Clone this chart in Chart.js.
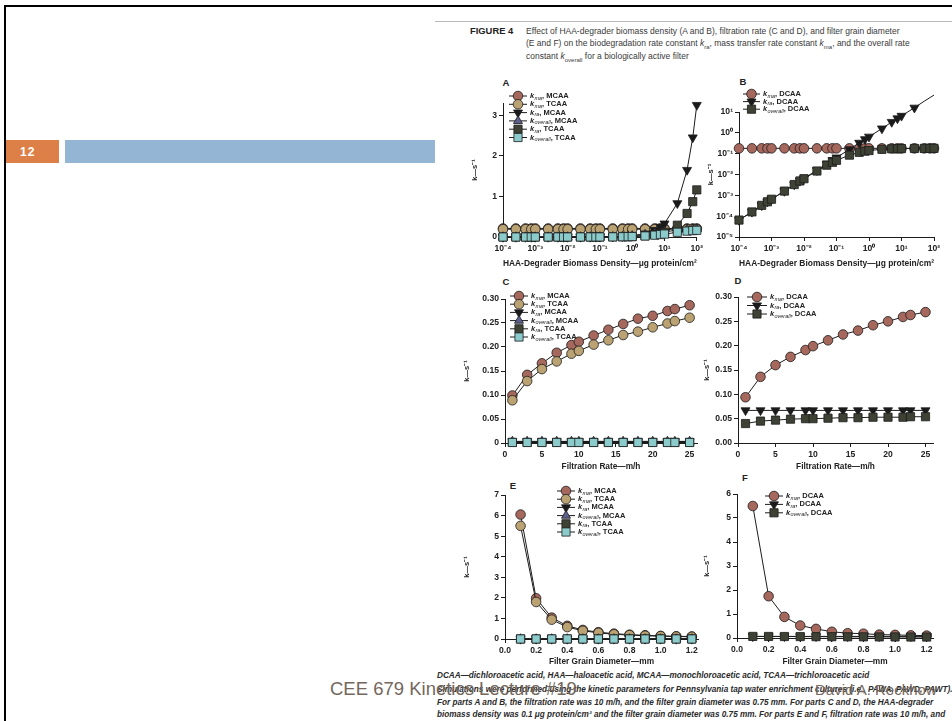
<!DOCTYPE html>
<html>
<head>
<meta charset="utf-8">
<script src="https://cdn.jsdelivr.net/npm/chart.js@4.4.0/dist/chart.umd.min.js"></script>
<style>
  body { margin: 0; width: 952px; height: 721px; overflow: hidden; background: #fff; position: relative;
         font-family: "Liberation Sans", Arial, sans-serif; }
  .abs { position: absolute; white-space: nowrap; line-height: 1; }
  canvas { position: absolute; }
  .cap { font-size: 8.5px; color: #3a3a3a; }
  .note { font-size: 8.2px; color: #2a2a2a; font-style: italic; font-weight: bold; }
  .letter { font-size: 9.5px; font-weight: bold; color: #222; transform: translate(-50%, -50%); }
  .foot { color: #74675c; }
</style>
</head>
<body>
<!-- slide frame -->
<div class="abs" style="left:4px;top:5px;width:948px;height:2px;background:#000"></div>
<div class="abs" style="left:4px;top:5px;width:2px;height:716px;background:#000"></div>
<div class="abs" style="left:435px;top:21px;width:517px;height:1px;background:#bbb"></div>
<div class="abs" style="left:6px;top:140px;width:53px;height:23px;background:#dd8047"></div>
<div class="abs" style="left:20px;top:146px;font-size:12px;font-weight:bold;color:#fff;letter-spacing:1px">12</div>
<div class="abs" style="left:65px;top:140px;width:370px;height:23px;background:#94b5d3"></div>

<!-- figure caption -->
<div class="abs cap" style="left:470px;top:26px;font-weight:bold;color:#222;font-size:9.4px">FIGURE 4</div>
<div class="abs cap" style="left:526px;top:27px">Effect of HAA-degrader biomass density (A and B), filtration rate (C and D), and filter grain diameter</div>
<div class="abs cap" style="left:526px;top:39px">(E and F) on the biodegradation rate constant <i>k</i><sub style="font-size:6px">ra</sub>, mass transfer rate constant <i>k</i><sub style="font-size:6px">ma</sub>, and the overall rate</div>
<div class="abs cap" style="left:526px;top:52px">constant <i>k</i><sub style="font-size:6px">overall</sub> for a biologically active filter</div>

<div class="abs letter" style="left:506px;top:83px">A</div>
<div class="abs letter" style="left:743px;top:82px">B</div>
<div class="abs letter" style="left:506px;top:282px">C</div>
<div class="abs letter" style="left:738px;top:281px">D</div>
<div class="abs letter" style="left:513px;top:486px">E</div>
<div class="abs letter" style="left:745px;top:478px">F</div>

<!-- footnotes -->
<div class="abs note" style="left:437px;top:672px">DCAA—dichloroacetic acid, HAA—haloacetic acid, MCAA—monochloroacetic acid, TCAA—trichloroacetic acid</div>
<div class="abs note" style="left:437px;top:686px">Simulations were performed using the kinetic parameters for Pennsylvania tap water enrichment cultures (i.e., PAWA, PAWD, PAWT).</div>
<div class="abs note" style="left:437px;top:699px">For parts A and B, the filtration rate was 10 m/h, and the filter grain diameter was 0.75 mm. For parts C and D, the HAA-degrader</div>
<div class="abs note" style="left:437px;top:711px">biomass density was 0.1 μg protein/cm² and the filter grain diameter was 0.75 mm. For parts E and F, filtration rate was 10 m/h, and</div>
<div class="abs note" style="left:437px;top:723px">the HAA-degrader biomass density was 0.1 μg protein/cm². For all simulations, the bed porosity was 40%.</div>

<div class="abs foot" style="left:330px;top:680px;font-size:18.5px">CEE 679 Kinetics Lecture #19</div>
<div class="abs foot" style="left:815px;top:682px;font-size:15px">David A. Reckhow</div>

<script>
// x values
const biomass = [1e-4, 2.5e-4, 5e-4, 7.5e-4, 1e-3, 2.5e-3, 5e-3, 7.5e-3, 1e-2, 2.5e-2, 5e-2, 7.5e-2,
                 0.1, 0.25, 0.5, 0.75, 1, 2.5, 5, 7.5, 10, 25, 50, 75, 100];
const rate = [1, 3, 5, 7, 9, 10, 12, 14, 16, 18, 20, 22, 23, 25];
const diameter = [0.1, 0.2, 0.3, 0.4, 0.5, 0.6, 0.7, 0.8, 0.9, 1.0, 1.1, 1.2];

// Panel A - biomass density, MCAA / TCAA
const kmaMcaaA = [0.211, 0.211, 0.211, 0.211, 0.211, 0.211, 0.211, 0.211, 0.211, 0.211, 0.211, 0.211, 0.211,
                  0.211, 0.211, 0.211, 0.211, 0.211, 0.211, 0.211, 0.211, 0.211, 0.211, 0.211, 0.211];
const kmaTcaaA = [0.192, 0.192, 0.192, 0.192, 0.192, 0.192, 0.192, 0.192, 0.192, 0.192, 0.192, 0.192, 0.192,
                  0.192, 0.192, 0.192, 0.192, 0.192, 0.192, 0.192, 0.192, 0.192, 0.192, 0.192, 0.192];
const kraMcaaA = [0.0000033, 0.0000083, 0.000017, 0.000025, 0.000033, 0.000083, 0.00017, 0.00025, 0.00033, 0.00083,
                  0.0017, 0.0025, 0.0033, 0.0083, 0.017, 0.025, 0.033, 0.083, 0.17, 0.25, 0.33, 0.83, 1.65, 2.45, 3.25];
const kovMcaaA = [0.0000033, 0.0000083, 0.000017, 0.000025, 0.000033, 0.000083, 0.00017, 0.00025, 0.00033, 0.00083,
                  0.0017, 0.0025, 0.0033, 0.0079, 0.015, 0.022, 0.029, 0.060, 0.094, 0.114, 0.128, 0.168, 0.186, 0.193, 0.197];
const kraTcaaA = [0.0000012, 0.0000029, 0.0000058, 0.0000087, 0.0000116, 0.000029, 0.000058, 0.000087, 0.000116, 0.00029,
                  0.00058, 0.00087, 0.00116, 0.0029, 0.0058, 0.0087, 0.0116, 0.029, 0.058, 0.087, 0.116, 0.29, 0.58, 0.87, 1.16];
const kovTcaaA = [0.0000012, 0.0000029, 0.0000058, 0.0000087, 0.0000116, 0.000029, 0.000058, 0.000087, 0.000116, 0.00029,
                  0.00058, 0.00087, 0.00115, 0.0029, 0.0056, 0.0083, 0.0109, 0.025, 0.045, 0.060, 0.072, 0.116, 0.144, 0.157, 0.165];

// Panel B - biomass density, DCAA
const kmaDcaaB = [0.18, 0.18, 0.18, 0.18, 0.18, 0.18, 0.18, 0.18, 0.18, 0.18, 0.18, 0.18, 0.18,
                  0.18, 0.18, 0.18, 0.18, 0.18, 0.18, 0.18, 0.18, 0.18, 0.18, 0.18, 0.18];
const kraDcaaB = [0.000065, 0.00016, 0.00033, 0.00049, 0.00065, 0.0016, 0.0033, 0.0049, 0.0065, 0.016, 0.033, 0.049,
                  0.065, 0.16, 0.33, 0.49, 0.65, 1.6, 3.3, 4.9, 6.5, 16, 33, 49, 65];
const kovDcaaB = [0.000065, 0.00016, 0.00033, 0.00049, 0.00065, 0.0016, 0.0033, 0.0049, 0.0063, 0.0147, 0.028, 0.0385,
                  0.048, 0.085, 0.116, 0.132, 0.141, 0.162, 0.171, 0.174, 0.175, 0.178, 0.179, 0.179, 0.18];

// Panel C - filtration rate, MCAA / TCAA
const kmaMcaaC = [0.099, 0.142, 0.166, 0.188, 0.204, 0.211, 0.224, 0.236, 0.248, 0.259, 0.265, 0.275, 0.279, 0.287];
const kmaTcaaC = [0.089, 0.129, 0.154, 0.170, 0.186, 0.192, 0.205, 0.214, 0.225, 0.232, 0.241, 0.249, 0.254, 0.261];
const kraMcaaC = [0.0033, 0.0033, 0.0033, 0.0033, 0.0033, 0.0033, 0.0033, 0.0033, 0.0033, 0.0033, 0.0033, 0.0033, 0.0033, 0.0033];
const kovMcaaC = [0.0032, 0.0032, 0.0032, 0.0032, 0.0032, 0.0032, 0.0032, 0.0032, 0.0032, 0.0032, 0.0032, 0.0032, 0.0032, 0.0032];
const kraTcaaC = [0.0012, 0.0012, 0.0012, 0.0012, 0.0012, 0.0012, 0.0012, 0.0012, 0.0012, 0.0012, 0.0012, 0.0012, 0.0012, 0.0012];
const kovTcaaC = [0.0011, 0.0011, 0.0011, 0.0011, 0.0011, 0.0011, 0.0011, 0.0011, 0.0011, 0.0011, 0.0011, 0.0011, 0.0011, 0.0011];

// Panel D - filtration rate, DCAA
const kmaDcaaD = [0.094, 0.136, 0.160, 0.177, 0.191, 0.199, 0.211, 0.223, 0.231, 0.242, 0.250, 0.259, 0.263, 0.269];
const kraDcaaD = [0.067, 0.067, 0.067, 0.067, 0.067, 0.067, 0.067, 0.067, 0.067, 0.067, 0.067, 0.067, 0.067, 0.067];
const kovDcaaD = [0.040, 0.045, 0.047, 0.049, 0.050, 0.050, 0.051, 0.052, 0.052, 0.053, 0.053, 0.053, 0.054, 0.054];

// Panel E - grain diameter, MCAA / TCAA
const kmaMcaaE = [6.05, 1.98, 1.04, 0.64, 0.44, 0.33, 0.26, 0.21, 0.18, 0.15, 0.13, 0.12];
const kmaTcaaE = [5.50, 1.80, 0.94, 0.58, 0.40, 0.30, 0.23, 0.19, 0.16, 0.14, 0.12, 0.11];
const kraMcaaE = [0.0033, 0.0033, 0.0033, 0.0033, 0.0033, 0.0033, 0.0033, 0.0033, 0.0033, 0.0033, 0.0033, 0.0033];
const kovMcaaE = [0.0033, 0.0033, 0.0033, 0.0033, 0.0033, 0.0033, 0.0032, 0.0032, 0.0032, 0.0032, 0.0032, 0.0032];
const kraTcaaE = [0.0012, 0.0012, 0.0012, 0.0012, 0.0012, 0.0012, 0.0012, 0.0012, 0.0012, 0.0012, 0.0012, 0.0012];
const kovTcaaE = [0.0012, 0.0012, 0.0012, 0.0012, 0.0012, 0.0011, 0.0011, 0.0011, 0.0011, 0.0011, 0.0011, 0.0011];

// Panel F - grain diameter, DCAA
const kmaDcaaF = [5.50, 1.74, 0.88, 0.52, 0.38, 0.26, 0.20, 0.18, 0.14, 0.13, 0.11, 0.10];
const kraDcaaF = [0.067, 0.067, 0.067, 0.067, 0.067, 0.067, 0.067, 0.067, 0.067, 0.067, 0.067, 0.067];
const kovDcaaF = [0.066, 0.064, 0.062, 0.059, 0.056, 0.054, 0.050, 0.048, 0.045, 0.044, 0.041, 0.040];

// tick values and labels
const decadeTicksX = [1e-4, 1e-3, 1e-2, 1e-1, 1, 10, 100];
const decadeLabelsX = ['10⁻⁴', '10⁻³', '10⁻²', '10⁻¹', '10⁰', '10¹', '10²'];
const decadeTicksY = [1e-5, 1e-4, 1e-3, 1e-2, 1e-1, 1, 10];
const decadeLabelsY = ['10⁻⁵', '10⁻⁴', '10⁻³', '10⁻²', '10⁻¹', '10⁰', '10¹'];
const yTicksA = [0, 1, 2, 3];
const rateTicks = [0, 5, 10, 15, 20, 25];
const yTicksCD = [0, 0.05, 0.10, 0.15, 0.20, 0.25, 0.30];
const yLabelsC = ['0', '0.05', '0.10', '0.15', '0.20', '0.25', '0.30'];
const yLabelsD = ['0.00', '0.05', '0.10', '0.15', '0.20', '0.25', '0.30'];
const diamTicks = [0, 0.2, 0.4, 0.6, 0.8, 1.0, 1.2];
const diamLabels = ['0.0', '0.2', '0.4', '0.6', '0.8', '1.0', '1.2'];
const yTicksE = [0, 1, 2, 3, 4, 5, 6, 7];
const yTicksF = [0, 1, 2, 3, 4, 5, 6];

const FONT = '"Liberation Sans", Arial, sans-serif';
const INK = '#1c1c1c';

// marker looks per series type
const st = {
  maM: { fill: '#a6685d', shape: 'circle', rot: 0, r: 4.8 },
  maT: { fill: '#baa273', shape: 'circle', rot: 0, r: 4.8 },
  raM: { fill: '#1a1a1a', shape: 'triangle', rot: 180, r: 5.2 },
  ovM: { fill: '#5d608c', shape: 'triangle', rot: 0, r: 5.2 },
  raT: { fill: '#3d4234', shape: 'rect', rot: 0, r: 5.8 },
  ovT: { fill: '#8ccbcb', shape: 'rect', rot: 0, r: 5.8 },
  maD: { fill: '#a6685d', shape: 'circle', rot: 0, r: 4.8 },
  raD: { fill: '#1a1a1a', shape: 'triangle', rot: 180, r: 5.2 },
  ovD: { fill: '#3d4234', shape: 'rect', rot: 0, r: 5.8 }
};

const miniLegend = {
  id: 'miniLegend',
  afterDatasetsDraw(chart, args, opts) {
    const ctx = chart.ctx;
    ctx.save();
    opts.items.forEach((it, i) => {
      const ds = chart.data.datasets[i];
      const y = opts.y + i * opts.step;
      ctx.strokeStyle = INK;
      ctx.lineWidth = 1;
      ctx.beginPath();
      ctx.moveTo(opts.x, y);
      ctx.lineTo(opts.x + opts.len, y);
      ctx.stroke();
      ctx.fillStyle = ds.pointBackgroundColor;
      ctx.lineWidth = 0.8;
      Chart.helpers.drawPoint(ctx, { pointStyle: ds.pointStyle, rotation: ds.pointRotation,
        radius: ds.pointRadius, borderWidth: 0.8 }, opts.x + opts.len / 2, y);
      let tx = opts.x + opts.len + 3;
      ctx.fillStyle = '#222';
      ctx.textBaseline = 'middle';
      ctx.font = 'italic bold 7.5px ' + FONT;
      ctx.fillText('k', tx, y);
      tx += ctx.measureText('k').width + 0.3;
      ctx.font = 'italic 5.5px ' + FONT;
      ctx.fillText(it.sub, tx, y + 2);
      tx += ctx.measureText(it.sub).width;
      ctx.font = 'bold 7.5px ' + FONT;
      ctx.fillText(', ' + it.name, tx, y);
    });
    ctx.restore();
  }
};

function axis(o, pos, size, titlePad) {
  return {
    type: o.type, min: o.min, max: o.max, position: pos,
    afterBuildTicks: s => { s.ticks = o.ticks.map(v => ({ value: v })); },
    afterFit: s => { if (pos === 'bottom') s.height = size; else s.width = size; },
    ticks: { callback: (v, i) => o.labels[i], color: '#222', autoSkip: false, maxRotation: 0, padding: 2,
             font: { size: 8.6, weight: 'bold', family: FONT } },
    grid: { drawOnChartArea: false, drawTicks: true, tickLength: 4, color: INK, lineWidth: 1 },
    border: { color: INK, width: 1 },
    title: { display: true, text: o.title, color: '#222', padding: { top: titlePad, bottom: titlePad },
             font: { size: o.titleSize, weight: 'bold', family: FONT } }
  };
}

function panel(box, plot, xs, series, xAx, yAx, leg) {
  const cv = document.createElement('canvas');
  cv.width = box.w;
  cv.height = box.h;
  cv.style.left = box.x + 'px';
  cv.style.top = box.y + 'px';
  document.body.appendChild(cv);
  const n = series.length;
  new Chart(cv, {
    type: 'line',
    data: {
      datasets: series.map((s, i) => ({
        data: xs.map((x, j) => ({ x, y: s.data[j] })),
        borderColor: INK, borderWidth: 1, tension: 0,
        pointStyle: s.st.shape, pointRotation: s.st.rot, pointRadius: s.st.r,
        pointBackgroundColor: s.st.fill, pointBorderColor: INK, pointBorderWidth: 0.8,
        clip: false, order: n - i
      }))
    },
    options: {
      responsive: false, animation: false, events: [],
      layout: { padding: { left: 0, top: plot.t - box.y, right: box.x + box.w - plot.r, bottom: 0 } },
      plugins: {
        legend: { display: false }, tooltip: { enabled: false },
        miniLegend: { x: leg.x - box.x, y: leg.y - box.y, step: leg.step, len: leg.len,
                      items: series.map(s => ({ sub: s.sub, name: s.name })) }
      },
      scales: {
        x: axis(xAx, 'bottom', box.y + box.h - plot.b, box.y + box.h - xAx.titleAt - xAx.titleSize * 0.6),
        y: axis(yAx, 'left', plot.l - box.x, yAx.titleAt - box.x - yAx.titleSize * 0.6)
      }
    },
    plugins: [miniLegend]
  });
}

const kTitle = 'k—s⁻¹';
const bioTitle = 'HAA-Degrader Biomass Density—μg protein/cm²';

// A
panel({ x: 460, y: 78, w: 245, h: 197 }, { l: 503, r: 700, t: 103, b: 237 }, biomass, [
  { data: kmaMcaaA, st: st.maM, sub: 'ma', name: 'MCAA' },
  { data: kmaTcaaA, st: st.maT, sub: 'ma', name: 'TCAA' },
  { data: kraMcaaA, st: st.raM, sub: 'ra', name: 'MCAA' },
  { data: kovMcaaA, st: st.ovM, sub: 'overall', name: 'MCAA' },
  { data: kraTcaaA, st: st.raT, sub: 'ra', name: 'TCAA' },
  { data: kovTcaaA, st: st.ovT, sub: 'overall', name: 'TCAA' }
], { type: 'logarithmic', min: 1e-4, max: 100, ticks: decadeTicksX, labels: decadeLabelsX, title: bioTitle, titleSize: 9.2, titleAt: 263 },
   { type: 'linear', min: 0, max: 3.3, ticks: yTicksA, labels: ['0', '1', '2', '3'], title: kTitle, titleSize: 7.5, titleAt: 475 },
   { x: 509, y: 96, step: 8.3, len: 18 });

// B
panel({ x: 700, y: 78, w: 245, h: 197 }, { l: 739, r: 934, t: 112, b: 237 }, biomass, [
  { data: kmaDcaaB, st: st.maD, sub: 'ma', name: 'DCAA' },
  { data: kraDcaaB, st: st.raD, sub: 'ra', name: 'DCAA' },
  { data: kovDcaaB, st: st.ovD, sub: 'overall', name: 'DCAA' }
], { type: 'logarithmic', min: 1e-4, max: 100, ticks: decadeTicksX, labels: decadeLabelsX, title: bioTitle, titleSize: 9.2, titleAt: 263 },
   { type: 'logarithmic', min: 1e-5, max: 10, ticks: decadeTicksY, labels: decadeLabelsY, title: kTitle, titleSize: 7.5, titleAt: 711 },
   { x: 743, y: 94, step: 7.6, len: 17 });

// C
panel({ x: 460, y: 278, w: 245, h: 200 }, { l: 505, r: 697, t: 299, b: 443 }, rate, [
  { data: kmaMcaaC, st: st.maM, sub: 'ma', name: 'MCAA' },
  { data: kmaTcaaC, st: st.maT, sub: 'ma', name: 'TCAA' },
  { data: kraMcaaC, st: st.raM, sub: 'ra', name: 'MCAA' },
  { data: kovMcaaC, st: st.ovM, sub: 'overall', name: 'MCAA' },
  { data: kraTcaaC, st: st.raT, sub: 'ra', name: 'TCAA' },
  { data: kovTcaaC, st: st.ovT, sub: 'overall', name: 'TCAA' }
], { type: 'linear', min: 0, max: 26, ticks: rateTicks, labels: ['0', '5', '10', '15', '20', '25'], title: 'Filtration Rate—m/h', titleSize: 8.3, titleAt: 467 },
   { type: 'linear', min: 0, max: 0.30, ticks: yTicksCD, labels: yLabelsC, title: kTitle, titleSize: 7.5, titleAt: 467 },
   { x: 510, y: 296, step: 8.2, len: 18 });

// D
panel({ x: 700, y: 278, w: 245, h: 200 }, { l: 738, r: 933, t: 297, b: 443 }, rate, [
  { data: kmaDcaaD, st: st.maD, sub: 'ma', name: 'DCAA' },
  { data: kraDcaaD, st: st.raD, sub: 'ra', name: 'DCAA' },
  { data: kovDcaaD, st: st.ovD, sub: 'overall', name: 'DCAA' }
], { type: 'linear', min: 0, max: 26, ticks: rateTicks, labels: ['0', '5', '10', '15', '20', '25'], title: 'Filtration Rate—m/h', titleSize: 8.3, titleAt: 467 },
   { type: 'linear', min: 0, max: 0.30, ticks: yTicksCD, labels: yLabelsD, title: kTitle, titleSize: 7.5, titleAt: 707 },
   { x: 747, y: 297, step: 8.5, len: 20 });

// E
panel({ x: 460, y: 478, w: 245, h: 194 }, { l: 505, r: 698, t: 495, b: 639 }, diameter, [
  { data: kmaMcaaE, st: st.maM, sub: 'ma', name: 'MCAA' },
  { data: kmaTcaaE, st: st.maT, sub: 'ma', name: 'TCAA' },
  { data: kraMcaaE, st: st.raM, sub: 'ra', name: 'MCAA' },
  { data: kovMcaaE, st: st.ovM, sub: 'overall', name: 'MCAA' },
  { data: kraTcaaE, st: st.raT, sub: 'ra', name: 'TCAA' },
  { data: kovTcaaE, st: st.ovT, sub: 'overall', name: 'TCAA' }
], { type: 'linear', min: 0, max: 1.24, ticks: diamTicks, labels: diamLabels, title: 'Filter Grain Diameter—mm', titleSize: 8.3, titleAt: 662 },
   { type: 'linear', min: 0, max: 7, ticks: yTicksE, labels: yTicksE.map(String), title: kTitle, titleSize: 7.5, titleAt: 467 },
   { x: 557, y: 491, step: 8.2, len: 18 });

// F
panel({ x: 700, y: 478, w: 245, h: 194 }, { l: 737, r: 933, t: 494, b: 638 }, diameter, [
  { data: kmaDcaaF, st: st.maD, sub: 'ma', name: 'DCAA' },
  { data: kraDcaaF, st: st.raD, sub: 'ra', name: 'DCAA' },
  { data: kovDcaaF, st: st.ovD, sub: 'overall', name: 'DCAA' }
], { type: 'linear', min: 0, max: 1.24, ticks: diamTicks, labels: diamLabels, title: 'Filter Grain Diameter—mm', titleSize: 8.3, titleAt: 662 },
   { type: 'linear', min: 0, max: 6, ticks: yTicksF, labels: yTicksF.map(String), title: kTitle, titleSize: 7.5, titleAt: 707 },
   { x: 765, y: 496, step: 8.4, len: 18 });
</script>
</body>
</html>
